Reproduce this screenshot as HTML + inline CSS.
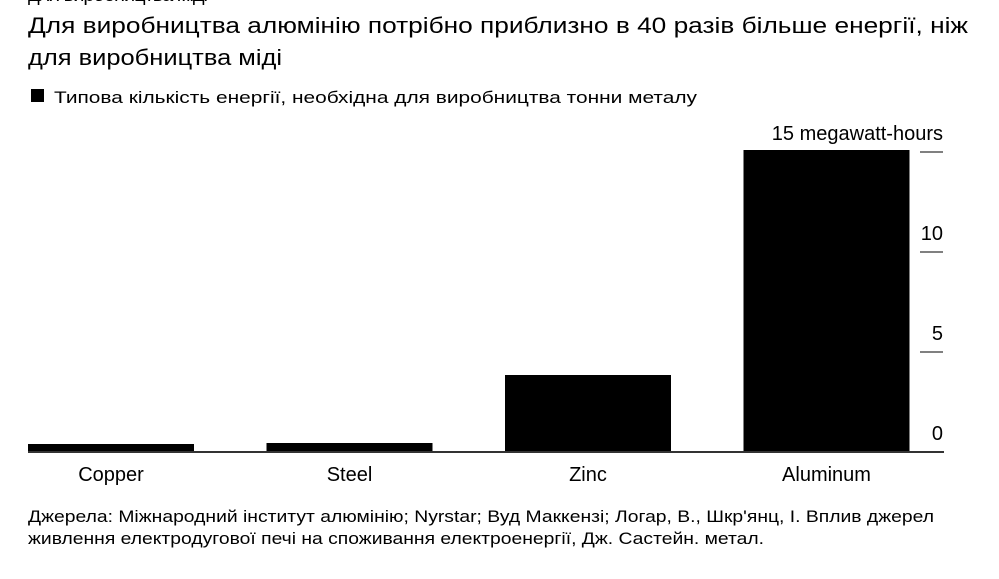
<!DOCTYPE html>
<html><head><meta charset="utf-8"><style>
body{margin:0;width:999px;height:579px;background:#fff;overflow:hidden;font-family:"Liberation Sans",sans-serif;color:#000}
svg{position:absolute;left:0;top:0}
</style></head><body>
<svg width="999" height="579">
<text x="28" y="1" font-size="20" textLength="180">для виробництва міді</text>
<text x="28" y="33" font-size="22" textLength="940" lengthAdjust="spacingAndGlyphs">Для виробництва алюмінію потрібно приблизно в 40 разів більше енергії, ніж</text>
<text x="28" y="65" font-size="22" textLength="254" lengthAdjust="spacingAndGlyphs">для виробництва міді</text>
<rect x="31" y="89" width="13" height="13" fill="#000"/>
<text x="54" y="103" font-size="17" textLength="643" lengthAdjust="spacingAndGlyphs">Типова кількість енергії, необхідна для виробництва тонни металу</text>
<g id="bars"></g>
<g id="axis"></g>
<text x="28" y="522" font-size="17" textLength="906" lengthAdjust="spacingAndGlyphs">Джерела: Міжнародний інститут алюмінію; Nyrstar; Вуд Маккензі; Логар, В., Шкр'янц, І. Вплив джерел</text>
<text x="28" y="544" font-size="17" textLength="736" lengthAdjust="spacingAndGlyphs">живлення електродугової печі на споживання електроенергії, Дж. Састейн. метал.</text>
</svg>
<script>
const categories=["Copper","Steel","Zinc","Aluminum"];
const values=[0.4,0.45,3.85,15.1];
const ticks=[0,5,10,15];
const tickLabels=["0","5","10","15 megawatt-hours"];
const NS="http://www.w3.org/2000/svg";
const y0=452,pxPer=20;
function y(v){return y0-v*pxPer;}
function xStart(i){return 28+i*238.5;}
const bw=166;
const bars=document.getElementById('bars'),axis=document.getElementById('axis');
categories.forEach((c,i)=>{
 const r=document.createElementNS(NS,'rect');
 r.setAttribute('x',xStart(i));r.setAttribute('y',y(values[i]));
 r.setAttribute('width',bw);r.setAttribute('height',y0-y(values[i]));
 r.setAttribute('fill','#000');
 
 
 bars.appendChild(r);
 const t=document.createElementNS(NS,'text');
 t.setAttribute('x',xStart(i)+bw/2);t.setAttribute('y',481);
 t.setAttribute('font-size','20');t.setAttribute('text-anchor','middle');
 t.textContent=c;
 
 
 axis.appendChild(t);
});
const base=document.createElementNS(NS,'line');
base.setAttribute('x1',28);base.setAttribute('x2',944);base.setAttribute('y1',y0);base.setAttribute('y2',y0);
base.setAttribute('stroke','#333');base.setAttribute('stroke-width','2');


axis.appendChild(base);
ticks.forEach((v,i)=>{
 if(v>0){
  const l=document.createElementNS(NS,'line');
  l.setAttribute('x1',920);l.setAttribute('x2',943);l.setAttribute('y1',y(v));l.setAttribute('y2',y(v));
  l.setAttribute('stroke','#000');l.setAttribute('stroke-width','1');
  
  
  axis.appendChild(l);
 }
 const t=document.createElementNS(NS,'text');
 t.setAttribute('x',943);t.setAttribute('y',y(v)-12);
 t.setAttribute('font-size','20');t.setAttribute('text-anchor','end');
 t.textContent=tickLabels[i];
 
 
 axis.appendChild(t);
});
</script>
</body></html>
